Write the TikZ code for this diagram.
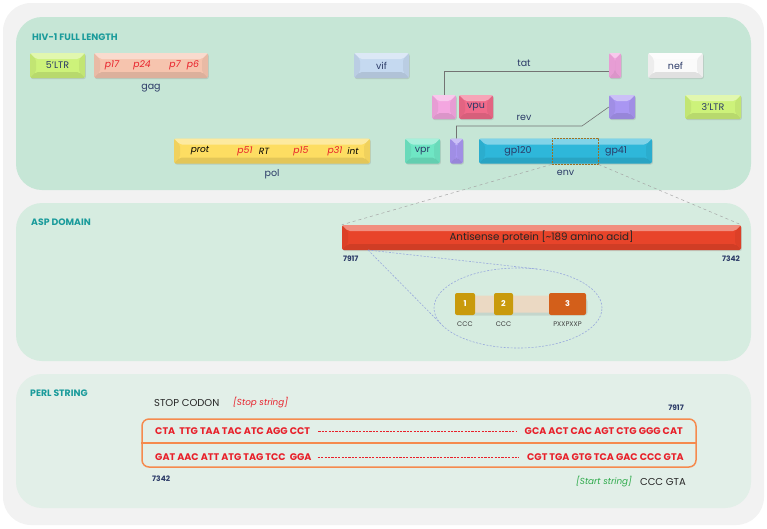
\documentclass[tikz,border=0pt]{standalone}
\usepackage{fontspec}
\setmainfont{Poppins}
\usetikzlibrary{positioning,shadows}
\definecolor{bgGrey}{HTML}{F2F2F2}
\definecolor{panelA}{HTML}{C6E6D6}
\definecolor{panelB}{HTML}{D6ECE0}
\definecolor{panelC}{HTML}{E2EFE8}
\definecolor{titleTeal}{HTML}{1A9B9B}
\definecolor{labelNavy}{HTML}{2B3A67}
\definecolor{ltrGreen}{HTML}{CDF27A}
\definecolor{gagPeach}{HTML}{F6C4AE}
\definecolor{vifBlue}{HTML}{C5D9F0}
\definecolor{tatPink}{HTML}{F4A6E0}
\definecolor{vpuRed}{HTML}{F06A8A}
\definecolor{nefWhite}{HTML}{FAFAFA}
\definecolor{revPurple}{HTML}{A996F2}
\definecolor{vprTeal}{HTML}{6FE6C4}
\definecolor{envCyan}{HTML}{2EB7DA}
\definecolor{polYellow}{HTML}{FDDD62}
\definecolor{protRed}{HTML}{E8202A}
\definecolor{aspRed}{HTML}{E8442A}
\definecolor{domGold}{HTML}{C99A0C}
\definecolor{domOrange}{HTML}{D35F1A}
\definecolor{domBeige}{HTML}{EBD9C3}
\definecolor{perlOrange}{HTML}{F58A4E}
\definecolor{startGreen}{HTML}{2DAA4A}
\definecolor{zoomBrown}{HTML}{A07020}
\definecolor{zoomBlue}{HTML}{99AADD}

\begin{document}
\begin{tikzpicture}[x=1pt,y=-1pt,
    every node/.style={font=\fontsize{9.5}{11}\selectfont},
    title/.style={font=\fontsize{9.3}{11}\selectfont\bfseries, text=titleTeal, anchor=west, inner sep=0pt},
    lbl/.style={text=labelNavy, inner sep=1pt},
    bevel/.style={path picture={
        \path (path picture bounding box.north west) coordinate (bnw)
              (path picture bounding box.north east) coordinate (bne)
              (path picture bounding box.south west) coordinate (bsw)
              (path picture bounding box.south east) coordinate (bse);
        \fill[white, opacity=0.4] (bnw) -- (bne) -- ([shift={(-6pt,-6pt)}]bne) -- ([shift={(6pt,-6pt)}]bnw) -- cycle;
        \fill[black, opacity=0.1] (bsw) -- (bse) -- ([shift={(-6pt,6pt)}]bse) -- ([shift={(6pt,6pt)}]bsw) -- cycle;
        \fill[black, opacity=0.05] (bnw) -- ([shift={(6pt,-6pt)}]bnw) -- ([shift={(6pt,6pt)}]bsw) -- (bsw) -- cycle;
        \fill[black, opacity=0.05] (bne) -- ([shift={(-6pt,-6pt)}]bne) -- ([shift={(-6pt,6pt)}]bse) -- (bse) -- cycle;
    }},
    gene/.style={fill=#1, rounded corners=2pt, minimum height=25pt, inner sep=0pt, text=labelNavy, bevel,
        drop shadow={opacity=0.25, shadow xshift=0.8pt, shadow yshift=-1pt}},
    ptag/.style={text=protRed, font=\fontsize{9.3}{11}\selectfont\itshape, inner sep=0pt},
    ktag/.style={text=black, font=\fontsize{9}{11}\selectfont\itshape, inner sep=0pt},
    connector/.style={draw=black!55, line width=0.6pt},
    zoomline/.style={draw=black!35, dashed, line width=0.5pt},
    bluedash/.style={draw=zoomBlue, dash pattern=on 2pt off 1.5pt, line width=0.6pt},
    dom/.style={fill=#1, rounded corners=2pt, minimum height=22pt, inner sep=0pt, text=white, font=\fontsize{8}{9}\selectfont\bfseries},
    small/.style={text=black!75, font=\fontsize{6.7}{8}\selectfont, inner sep=1pt},
    posnum/.style={text=labelNavy, font=\fontsize{7.5}{8}\selectfont\bfseries, inner sep=1pt},
    seq/.style={text=protRed, font=\fontsize{9.6}{11}\selectfont\bfseries, inner sep=0pt},
    seqdash/.style={draw=protRed, dash pattern=on 2.2pt off 1.2pt, line width=0.6pt},
    note/.style={inner sep=0pt, font=\fontsize{8.8}{10}\selectfont\itshape},
  ]
  \useasboundingbox (0,0) rectangle (767,528);
  \fill[bgGrey, rounded corners=28pt] (3,3) rectangle (764,525);
  \fill[panelA, rounded corners=26pt] (16,17) rectangle (751,190);
  \fill[panelB, rounded corners=26pt] (16,203) rectangle (751,361);
  \fill[panelC, rounded corners=26pt] (16,374) rectangle (751,508);

  \node[title] (t1) at (32,37) {HIV-1 FULL LENGTH};
  \node[title] (t2) at (31,222) {ASP DOMAIN};
  \node[title] (t3) at (30,393) {PERL STRING};

  \node[gene=ltrGreen, minimum width=55pt] (ltr5) at (57.5,65.5) {5'LTR};
  \node[gene=gagPeach, minimum width=114pt] (gag) at (151,65.5) {};
  \node[ptag] (p17) at (112,65.5) {p17};
  \node[ptag] (p24) at (142,65.5) {p24};
  \node[ptag] (p7) at (175,65.5) {p7};
  \node[ptag] (p6) at (193,65.5) {p6};
  \node[lbl, below=5pt of gag] (gaglbl) {gag};

  \node[gene=vifBlue, minimum width=55pt] (vif) at (381.5,65.5) {vif};
  \node[gene=tatPink, minimum width=12pt] (tatR) at (615,65.5) {};
  \node[gene=nefWhite, minimum width=55pt] (nef) at (675.5,65.5) {nef};

  \node[gene=tatPink, minimum width=24pt, minimum height=24pt] (tatL) at (444,107) {};
  \node[gene=vpuRed, minimum width=34pt, minimum height=24pt] (vpu) at (476,107) {vpu};
  \node[gene=revPurple, minimum width=26pt, minimum height=24pt] (revR) at (622,107) {};
  \node[gene=ltrGreen, minimum width=56pt, minimum height=24pt] (ltr3) at (713,107) {3'LTR};

  \node[gene=polYellow, minimum width=196pt] (pol) at (272,151) {};
  \node[ktag] (prot) at (200,151) {prot};
  \node[ptag] (p51) at (245,151) {p51};
  \node[ktag] (rt) at (264,151) {RT};
  \node[ptag] (p15) at (301,151) {p15};
  \node[ptag] (p31) at (335,151) {p31};
  \node[ktag] (int) at (353,151) {int};
  \node[lbl, below=5pt of pol] (pollbl) {pol};

  \node[gene=vprTeal, minimum width=35pt] (vpr) at (422.5,151) {vpr};
  \node[gene=revPurple, minimum width=13pt] (revL) at (456.5,151) {};
  \node[gene=envCyan, minimum width=173pt] (env) at (565.5,151) {};
  \node[lbl] (gp120) at (518,151) {gp120};
  \node[lbl] (gp41) at (616,151) {gp41};
  \node[lbl, below=5pt of env] (envlbl) {env};
  \node[draw=zoomBrown, dash pattern=on 2pt off 1pt, line width=0.8pt, minimum width=46pt, minimum height=26pt, inner sep=0pt] (envzoom) at (575,151) {};

  \draw[connector] (tatL.north) |- ([yshift=-5.5pt]tatR.west);
  \node[lbl] (tatlbl) at (524,63) {tat};
  \coordinate (revbend) at (582,126);
  \draw[connector] (revL.north) |- (revbend) -- (revR.west);
  \node[lbl] (revlbl) at (524,118) {rev};

  \node[gene=aspRed, minimum width=399pt, text=black!85, font=\fontsize{10.3}{12}\selectfont] (asp) at (541.5,237.5) {Antisense protein [\char"007E 189 amino acid]};
  \draw[zoomline] (envzoom.south west) -- (asp.north west);
  \draw[zoomline] (envzoom.south east) -- (asp.north east);
  \node[posnum, below right=4pt and 0pt of asp.south west] (asp7917) {7917};
  \node[posnum, below left=4pt and 0pt of asp.south east] (asp7342) {7342};

  \coordinate (asppt) at (368,250);
  \coordinate (tanA) at (442,325);
  \coordinate (tanB) at (537,269);
  \draw[bluedash] (518,308) ellipse [x radius=84pt, y radius=40pt];
  \draw[bluedash] (asppt) -- (tanA);
  \draw[bluedash] (asppt) -- (tanB);

  \node[fill=domBeige, rounded corners=3pt, minimum width=130pt, minimum height=17pt, inner sep=0pt,
        drop shadow={opacity=0.2, shadow xshift=2pt, shadow yshift=-3pt}] (dombar) at (520.5,304) {};
  \node[dom=domGold, minimum width=20pt] (dom1) at (465,304) {1};
  \node[dom=domGold, minimum width=19pt] (dom2) at (503.5,304) {2};
  \node[dom=domOrange, minimum width=37pt] (dom3) at (567.5,304) {3};
  \node[small, below=5pt of dom1] (ccc1) {CCC};
  \node[small, below=5pt of dom2] (ccc2) {CCC};
  \node[small, below=5pt of dom3] (pxx) {PXXPXXP};

  \node[anchor=west, inner sep=0pt, text=black!85, font=\fontsize{10}{11}\selectfont] (stop) at (154,403) {STOP CODON};
  \node[note, anchor=west, text=protRed] (stopstr) at (233,403) {[Stop string]};
  \node[posnum, anchor=east, inner sep=0pt] (perl7917) at (684,408) {7917};

  \node[draw=perlOrange, line width=1.5pt, rounded corners=7pt, minimum width=554pt, minimum height=48pt, inner sep=0pt] (perl) at (419,443) {};
  \draw[draw=perlOrange, line width=1.5pt] (perl.west) -- (perl.east);

  \node[seq, anchor=west] (row1a) at (155,431) {CTA\ \ TTG TAA TAC ATC AGG CCT};
  \node[seq, anchor=east] (row1b) at (683,431) {GCA ACT CAC AGT CTG GGG CAT};
  \draw[seqdash] ([xshift=8pt]row1a.east) -- ([xshift=-8pt]row1b.west);
  \node[seq, anchor=west] (row2a) at (155,457) {GAT AAC ATT ATG TAG TCC\ \ GGA};
  \node[seq, anchor=east] (row2b) at (684,457) {CGT TGA GTG TCA GAC CCC GTA};
  \draw[seqdash] ([xshift=6pt]row2a.east) -- ([xshift=-8pt]row2b.west);

  \node[posnum, anchor=west, inner sep=0pt] (perl7342) at (152,479) {7342};
  \node[anchor=east, inner sep=0pt, text=black!85, font=\fontsize{10}{11}\selectfont] (cccgta) at (686,482) {CCC GTA};
  \node[note, anchor=east, text=startGreen] (startstr) at (632,482) {[Start string]};
\end{tikzpicture}
\end{document}
